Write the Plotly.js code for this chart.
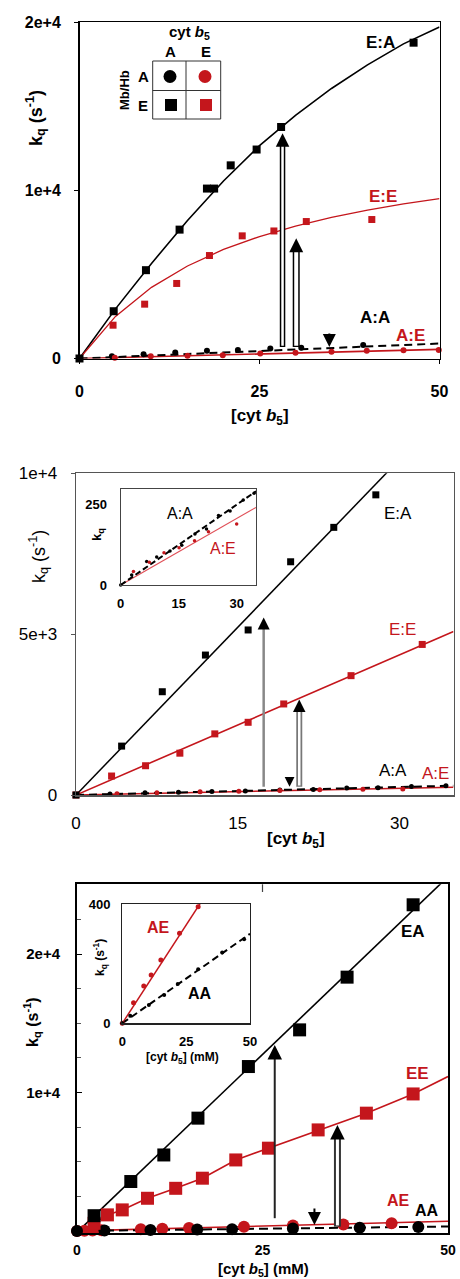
<!DOCTYPE html>
<html><head><meta charset="utf-8">
<script src="https://cdn.plot.ly/plotly-3.0.1.min.js"></script>
<style>html,body{margin:0;padding:0;background:#fff;}#chart{width:460px;height:1279px;}</style>
</head><body><div id="chart"></div>
<script>
// ---------- DATA ----------
// Panel 1
const p1_xTickVals = [0, 25, 50];
const p1_xTickText = ['0', '25', '50'];
const p1_yTickVals = [0, 10000, 20000];
const p1_yTickText = ['0', '1e+4', '2e+4'];
const p1_EA_x = [0, 4.75, 9.23, 13.9, 17.7, 18.7, 21.0, 24.6, 28.0, 46.4];
const p1_EA_y = [0, 2810, 5250, 7660, 10100, 10100, 11480, 12420, 13760, 18770];
const p1_EAfit_x = [0, 5, 10, 15, 20, 25, 30, 35, 40, 45, 50];
const p1_EAfit_y = [0, 2950, 5650, 8200, 10550, 12650, 14450, 16050, 17450, 18700, 19700];
const p1_EE_x = [4.66, 9.05, 13.5, 18.05, 22.6, 27.0, 31.5, 40.6];
const p1_EE_y = [1980, 3230, 4460, 6120, 7290, 7580, 8140, 8260];
const p1_EEfit_x = [0, 5, 10, 15, 20, 25, 30, 35, 40, 45, 50];
const p1_EEfit_y = [0, 2500, 4230, 5500, 6480, 7250, 7870, 8390, 8820, 9190, 9500];
const p1_AA_x = [0, 4.5, 8.9, 13.3, 17.7, 22.0, 26.5, 30.8, 39.4];
const p1_AA_y = [0, 140, 260, 360, 455, 500, 595, 635, 795];
const p1_AAfit_x = [0, 50];
const p1_AAfit_y = [0, 890];
const p1_AE_x = [4.9, 9.9, 15.0, 19.9, 25.1, 30.0, 35.0, 39.9, 45.0, 49.9];
const p1_AE_y = [40, 140, 160, 200, 300, 335, 395, 455, 495, 500];
const p1_AEfit_x = [0, 50];
const p1_AEfit_y = [0, 540];
const p1_upArrows = [[28.2, 690, 13390], [30.1, 690, 7140]];   // x, base, tip
const p1_downArrows = [[34.7, 1600, 690]];                   // x, top, tip

// Panel 2
const p2_xTickVals = [0, 15, 30];
const p2_xTickText = ['0', '15', '30'];
const p2_yTickVals = [0, 5000, 10000];
const p2_yTickText = ['0', '5e+3', '1e+4'];
const p2_EA_x = [0, 4.23, 8.0, 12.0, 15.96, 19.9, 23.9, 27.8];
const p2_EA_y = [0, 1520, 3210, 4350, 5130, 7250, 8320, 9330];
const p2_EAfit_x = [0, 35];
const p2_EAfit_y = [0, 12170];
const p2_EE_x = [0, 3.3, 6.45, 9.63, 12.87, 15.96, 19.26, 25.5, 32.1];
const p2_EE_y = [0, 590, 910, 1300, 1900, 2260, 2830, 3710, 4680];
const p2_EEfit_x = [0, 35];
const p2_EEfit_y = [0, 5080];
const p2_AA_x = [0, 3.15, 6.4, 9.5, 12.6, 15.7, 18.9, 22.0, 25.1, 28.0, 31.1, 34.3];
const p2_AA_y = [0, 31, 73, 87, 105, 123, 158, 173, 215, 229, 263, 284];
const p2_AAfit_x = [0, 35];
const p2_AAfit_y = [0, 290];
const p2_AE_x = [0, 3.8, 7.5, 11.5, 15.1, 18.9, 22.6, 26.6, 30.3];
const p2_AE_y = [0, 42, 70, 100, 115, 137, 165, 180, 189];
const p2_AEfit_x = [0, 35];
const p2_AEfit_y = [0, 240];
const p2_upArrows = [[17.4, 260, 5520], [20.7, 260, 2970]];
const p2_downArrows = [[19.8, 560, 260]];

// Panel 2 inset
const i2_xTickVals = [0, 15, 30];
const i2_xTickText = ['0', '15', '30'];
const i2_yTickVals = [0, 250];
const i2_yTickText = ['0', '250'];
const i2_AA_x = [0, 2.84, 6.72, 9.31, 12.76, 15.8, 19.2, 22.2, 25.3, 28.3, 31.7, 34.5];
const i2_AA_y = [0, 31, 73, 87, 105, 123, 158, 173, 215, 229, 263, 284];
const i2_AAfit_x = [0, 35];
const i2_AAfit_y = [0, 290];
const i2_AE_x = [3.3, 7.4, 11.2, 15.1, 19.1, 22.7, 30.0];
const i2_AE_y = [42, 70, 100, 115, 137, 165, 189];
const i2_AEfit_x = [0, 35];
const i2_AEfit_y = [0, 240];

// Panel 3
const p3_xTickVals = [0, 25, 50];
const p3_xTickText = ['0', '25', '50'];
const p3_yTickVals = [10000, 20000];
const p3_yTickText = ['1e+4', '2e+4'];
const p3_yMinorVals = [2500, 5000, 7500, 12500, 15000, 17500, 22500];
const p3_EA_x = [2.3, 7.25, 11.7, 16.3, 23.1, 30.0, 36.4, 45.3];
const p3_EA_y = [1100, 3570, 5490, 8150, 11880, 14530, 18340, 23570];
const p3_EAfit_x = [0.2, 50];
const p3_EAfit_y = [0, 25600];
const p3_EE_x = [2.3, 4.1, 6.1, 9.5, 13.3, 16.9, 21.4, 25.8, 32.5, 39.0, 45.3];
const p3_EE_y = [550, 1160, 1520, 2360, 3080, 3810, 5130, 5980, 7300, 8510, 9900];
const p3_EEfit_x = [2.3, 4.1, 6.1, 9.5, 13.3, 16.9, 21.4, 25.8, 32.5, 39.0, 45.3, 50];
const p3_EEfit_y = [550, 1160, 1520, 2360, 3080, 3810, 5130, 5980, 7300, 8510, 9900, 11160];
const p3_AA_x = [0, 3.7, 9.9, 16.2, 20.9, 29.1, 38.1, 46.0];
const p3_AA_y = [0, 25, 60, 100, 130, 180, 235, 285];
const p3_AAfit_x = [0, 50];
const p3_AAfit_y = [0, 320];
const p3_AE_x = [0, 1.0, 2.1, 3.3, 8.6, 11.5, 15.1, 22.5, 29.1, 35.9, 42.4];
const p3_AE_y = [0, 15, 30, 45, 115, 155, 205, 300, 390, 470, 560];
const p3_AEfit_x = [0, 50];
const p3_AEfit_y = [0, 700];
const p3_upArrows = [[26.65, 920, 13440], [35.1, 310, 7660]];
const p3_downArrows = [[32.0, 1760, 430]];

// Panel 3 inset
const i3_xTickVals = [0, 25, 50];
const i3_xTickText = ['0', '25', '50'];
const i3_yTickVals = [0, 400];
const i3_yTickText = ['0', '400'];
const i3_AE_x = [0, 4.4, 8.4, 11.3, 15.1, 22.4, 29.7];
const i3_AE_y = [0, 69, 125, 162, 212, 302, 391];
const i3_AEfit_x = [0, 30.5];
const i3_AEfit_y = [0, 402];
const i3_AA_x = [0, 3.1, 10.4, 16.4, 21.7, 29.7, 39.1, 47.7];
const i3_AA_y = [0, 25, 61, 95, 132, 181, 237, 282];
const i3_AAfit_x = [0, 50];
const i3_AAfit_y = [0, 300];

// ---------- DRAWING ----------
const W = 460, H = 1279;
const RED = '#c4161c';
const F = 'Liberation Sans, Arial, Helvetica, sans-serif';
const dx = p => p / W;
const dy = p => 1 - p / H;

const traces = [];
function mk(x, y, n, sym, size, color) {
  traces.push({x, y, xaxis: 'x' + n, yaxis: 'y' + n, type: 'scatter', mode: 'markers',
    marker: {symbol: sym, size, color, line: {width: 0}}, cliponaxis: false, showlegend: false, hoverinfo: 'skip'});
}
function ln(x, y, n, color, width, dash) {
  traces.push({x, y, xaxis: 'x' + n, yaxis: 'y' + n, type: 'scatter', mode: 'lines',
    line: {color, width, dash: dash || 'solid'}, showlegend: false, hoverinfo: 'skip'});
}

// Panel 1 (axis n = '')
ln(p1_EAfit_x, p1_EAfit_y, '', '#000', 1.6);
ln(p1_EEfit_x, p1_EEfit_y, '', RED, 1.3);
ln(p1_AEfit_x, p1_AEfit_y, '', RED, 1.6);
ln(p1_AAfit_x, p1_AAfit_y, '', '#000', 2, '8px,5px');
mk(p1_AA_x, p1_AA_y, '', 'circle', 6, '#000');
mk(p1_AE_x, p1_AE_y, '', 'circle', 6, RED);
mk(p1_EE_x, p1_EE_y, '', 'square', 7, RED);
mk(p1_EA_x, p1_EA_y, '', 'square', 8, '#000');

// Panel 2
ln(p2_EAfit_x, p2_EAfit_y, '2', '#000', 1.5);
ln(p2_EEfit_x, p2_EEfit_y, '2', RED, 1.6);
ln(p2_AEfit_x, p2_AEfit_y, '2', RED, 1.5);
ln(p2_AAfit_x, p2_AAfit_y, '2', '#000', 2, '8px,5px');
mk(p2_AA_x, p2_AA_y, '2', 'circle', 5, '#000');
mk(p2_AE_x, p2_AE_y, '2', 'circle', 5, RED);
mk(p2_EE_x, p2_EE_y, '2', 'square', 7, RED);
mk(p2_EA_x, p2_EA_y, '2', 'square', 7, '#000');

// Panel 3
ln(p3_EAfit_x, p3_EAfit_y, '3', '#000', 1.6);
ln(p3_EEfit_x, p3_EEfit_y, '3', RED, 1.6);
ln(p3_AEfit_x, p3_AEfit_y, '3', RED, 1.6);
ln(p3_AAfit_x, p3_AAfit_y, '3', '#000', 2, '9px,5px');
mk(p3_AE_x, p3_AE_y, '3', 'circle', 12, RED);
mk(p3_AA_x, p3_AA_y, '3', 'circle', 12, '#000');
mk(p3_EE_x, p3_EE_y, '3', 'square', 13, RED);
mk(p3_EA_x, p3_EA_y, '3', 'square', 13, '#000');

// Inset 2 (axis 4)
ln(i2_AEfit_x, i2_AEfit_y, '4', '#e05058', 1.2);
ln(i2_AAfit_x, i2_AAfit_y, '4', '#000', 2, '6px,3px');
mk(i2_AA_x, i2_AA_y, '4', 'circle', 3.5, '#000');
mk(i2_AE_x, i2_AE_y, '4', 'circle', 3.5, RED);

// Inset 3 (axis 5)
ln(i3_AEfit_x, i3_AEfit_y, '5', RED, 1.5);
ln(i3_AAfit_x, i3_AAfit_y, '5', '#000', 2, '7px,4px');
mk(i3_AE_x, i3_AE_y, '5', 'circle', 5, RED);
mk(i3_AA_x, i3_AA_y, '5', 'circle', 4, '#000');

// ---------- AXES ----------
function xax(l, r, range, vals, text, o) {
  return Object.assign({domain: [dx(l), dx(r)], range, tickmode: 'array', tickvals: vals, ticktext: text,
    showgrid: false, zeroline: false, showline: true, linecolor: '#000', linewidth: 1.5, mirror: true,
    ticks: 'outside', ticklen: 4, tickcolor: '#000', fixedrange: true}, o);
}
const sub = {
  '':  {t: 22, b: 358.5, r: [0, 20000]},
  '2': {t: 473.3, b: 795, r: [0, 10000]},
  '3': {t: 884.3, b: 1233, r: [-150, 25050]},
  '4': {t: 489, b: 585, r: [0, 297]},
  '5': {t: 904, b: 1023.3, r: [0, 400]}
};
function yax(n, vals, text, o) {
  const s = sub[n];
  return Object.assign({domain: [dy(s.b), dy(s.t)], range: s.r, tickmode: 'array', tickvals: vals, ticktext: text,
    showgrid: false, zeroline: false, showline: true, linecolor: '#000', linewidth: 1.5, mirror: true,
    ticks: 'outside', ticklen: 4, tickcolor: '#000', fixedrange: true}, o);
}
const tf = (size, weight) => ({family: F, size, color: '#000', weight});

const layout = {
  width: W, height: H, margin: {l: 0, r: 0, t: 0, b: 0},
  paper_bgcolor: '#fff', plot_bgcolor: 'rgba(0,0,0,0)', showlegend: false,
  xaxis: xax(79.5, 439.5, [0, 50], p1_xTickVals, p1_xTickText, {anchor: 'y', tickfont: tf(16, 'bold'), ticklabelstandoff: 14}),
  yaxis: yax('', p1_yTickVals, p1_yTickText, {anchor: 'x', tickfont: tf(16, 'bold'), ticklabelstandoff: 10}),
  xaxis2: xax(76, 453.5, [0, 35], p2_xTickVals, p2_xTickText, {anchor: 'y2', tickfont: tf(17, 'normal'), linecolor: '#555', ticklabelstandoff: 12, ticks: ''}),
  yaxis2: yax('2', p2_yTickVals, p2_yTickText, {anchor: 'x2', tickfont: tf(17, 'normal'), linecolor: '#555', tickcolor: '#555', ticklabelstandoff: 10}),
  xaxis3: xax(77, 448, [0, 50], p3_xTickVals, p3_xTickText, {anchor: 'y3', tickfont: tf(14, 'bold'), linewidth: 2, ticks: '', ticklabelstandoff: 3}),
  yaxis3: yax('3', p3_yTickVals, p3_yTickText, {anchor: 'x3', tickfont: tf(15, 'bold'), linewidth: 2, ticks: 'inside', ticklen: 5, ticklabelstandoff: 12,
    minor: {tickmode: 'array', tickvals: p3_yMinorVals, ticks: 'inside', ticklen: 4, tickcolor: '#555'}}),
  xaxis4: xax(120.7, 256, [0, 35], i2_xTickVals, i2_xTickText, {anchor: 'y4', tickfont: tf(13, 'bold'), linecolor: '#444', linewidth: 1.2, ticks: '', ticklabelstandoff: 6}),
  yaxis4: yax('4', i2_yTickVals, i2_yTickText, {anchor: 'x4', tickfont: tf(13, 'bold'), linecolor: '#444', linewidth: 1.2, ticks: '', ticklabelstandoff: 10}),
  xaxis5: xax(122.3, 250, [0, 50], i3_xTickVals, i3_xTickText, {anchor: 'y5', tickfont: tf(13, 'bold'), linecolor: '#222', linewidth: 1.2, ticks: '', ticklabelstandoff: 6}),
  yaxis5: yax('5', i3_yTickVals, i3_yTickText, {anchor: 'x5', tickfont: tf(13, 'bold'), linecolor: '#222', linewidth: 1.2, ticks: '', ticklabelstandoff: 8}),
  shapes: [], annotations: []
};
// small inward tick at the top of panel 3 (x = 25)
layout.shapes.push({type: 'line', xref: 'x3', yref: 'paper', x0: 25, x1: 25, y0: dy(884.3), y1: dy(892), line: {color: '#444', width: 1.2}});

// ---------- ARROWS ----------
function pxPerY(n) { const s = sub[n]; return (s.b - s.t) / (s.r[1] - s.r[0]); }
function upArrow(n, a, st) {
  const [x, y0, y1] = a;
  const xr = 'x' + n, yr = 'y' + n, k = pxPerY(n);
  const headLen = 5 * st.aw * st.as;
  layout.shapes.push({type: 'line', xref: xr, yref: yr, x0: x, x1: x, y0: y0, y1: y1 - headLen * 0.7 / k,
    line: {color: st.color, width: st.outer}, layer: 'above'});
  if (st.inner) {
    layout.shapes.push({type: 'line', xref: xr, yref: yr, x0: x, x1: x, y0: y0 + 1.2 / k, y1: y1 - headLen * 0.9 / k,
      line: {color: '#fff', width: st.inner}, layer: 'above'});
  }
  layout.annotations.push({xref: xr, yref: yr, x, y: y1, ax: 0, ay: headLen + 1, text: ' ', showarrow: true,
    arrowhead: 2, arrowwidth: st.aw, arrowsize: st.as, arrowcolor: '#000', font: {size: 1}});
}
function downArrow(n, a, st) {
  const [x, yTop, yTip] = a;
  const k = pxPerY(n);
  layout.annotations.push({xref: 'x' + n, yref: 'y' + n, x, y: yTip, ax: 0, ay: -Math.max((yTop - yTip) * k, 8), text: ' ', showarrow: true,
    arrowhead: 2, arrowwidth: st.aw, arrowsize: st.as, arrowcolor: '#000', font: {size: 1}});
}
upArrow('', p1_upArrows[0], {color: '#000', outer: 5.5, inner: 2.5, aw: 2, as: 1.35});
upArrow('', p1_upArrows[1], {color: '#000', outer: 7, inner: 4, aw: 2, as: 1.4});
downArrow('', p1_downArrows[0], {aw: 2, as: 1.3});
upArrow('2', p2_upArrows[0], {color: '#888', outer: 2.5, inner: 0, aw: 2, as: 1.2});
upArrow('2', p2_upArrows[1], {color: '#777', outer: 6, inner: 2.5, aw: 2, as: 1.25});
downArrow('2', p2_downArrows[0], {aw: 1.5, as: 1.3});
upArrow('3', p3_upArrows[0], {color: '#222', outer: 2, inner: 0, aw: 2, as: 1.45});
upArrow('3', p3_upArrows[1], {color: '#333', outer: 7, inner: 3, aw: 2, as: 1.45});
downArrow('3', p3_downArrows[0], {aw: 2, as: 1.3});

// ---------- TEXT ----------
function txt(text, x, y, size, color, weight, angle, xanchor) {
  layout.annotations.push({xref: 'paper', yref: 'paper', x: dx(x), y: dy(y), text, showarrow: false,
    xanchor: xanchor || 'center', yanchor: 'middle', textangle: angle || 0,
    font: {family: F, size, color, weight: weight || 'normal'}});
}
const KQ = 'k<sub>q</sub> (s<sup>-1</sup>)';
const CYT = '[cyt <i>b</i><sub>5</sub>]';
// panel 1
txt(KQ, 35, 118, 18, '#000', 'bold', -90);
txt(CYT, 260, 417, 17, '#000', 'bold');
txt('E:A', 380, 42, 17, '#000', 'bold');
txt('E:E', 383, 197, 17, RED, 'bold');
txt('A:A', 375, 317, 17, '#000', 'bold');
txt('A:E', 410, 335, 17, RED, 'bold');
// legend grid
txt('cyt <i>b</i><sub>5</sub>', 189, 33, 15, '#000', 'bold');
txt('A', 170, 52, 15, '#000', 'bold');
txt('E', 206, 52, 15, '#000', 'bold');
txt('A', 143, 76, 15, '#000', 'bold');
txt('E', 143, 105, 15, '#000', 'bold');
txt('Mb/Hb', 124, 90, 13, '#000', 'bold', -90);
const P = (x0, y0, x1, y1) => ({x0: dx(x0), x1: dx(x1), y0: dy(y1), y1: dy(y0)});
layout.shapes.push(Object.assign({type: 'rect', xref: 'paper', yref: 'paper', line: {color: '#333', width: 1}, fillcolor: 'rgba(0,0,0,0)'}, P(152.7, 61, 220.7, 119)));
layout.shapes.push(Object.assign({type: 'line', xref: 'paper', yref: 'paper', line: {color: '#333', width: 1}}, P(186, 61, 186, 119)));
layout.shapes.push(Object.assign({type: 'line', xref: 'paper', yref: 'paper', line: {color: '#333', width: 1}}, P(152.7, 90.5, 220.7, 90.5)));
layout.shapes.push(Object.assign({type: 'circle', xref: 'paper', yref: 'paper', line: {width: 0}, fillcolor: '#000'}, P(163.5, 70, 176.5, 83)));
layout.shapes.push(Object.assign({type: 'circle', xref: 'paper', yref: 'paper', line: {width: 0}, fillcolor: RED}, P(198.5, 70, 211.5, 83)));
layout.shapes.push(Object.assign({type: 'rect', xref: 'paper', yref: 'paper', line: {width: 0}, fillcolor: '#000'}, P(165, 99, 177, 111)));
layout.shapes.push(Object.assign({type: 'rect', xref: 'paper', yref: 'paper', line: {width: 0}, fillcolor: RED}, P(200, 99, 212, 111)));
// panel 2
txt(KQ, 38, 557, 18, '#000', 'normal', -90);
txt(CYT, 296, 840, 17, '#000', 'bold');
txt('E:A', 398, 513, 17, '#000');
txt('E:E', 402, 629, 17, RED);
txt('A:A', 393, 770, 17, '#000');
txt('A:E', 435, 773, 17, RED);
txt('A:A', 180, 513, 16, '#000');
txt('A:E', 223, 548, 16, RED);
txt('k<sub>q</sub>', 97, 535, 13, '#000', 'bold', -90);
// panel 3
txt(KQ, 32, 1022, 16, '#000', 'bold', -90);
txt(CYT + ' (mM)', 263, 1269, 15, '#000', 'bold');
txt('EA', 413, 931, 17, '#000', 'bold');
txt('EE', 417, 1073, 17, RED, 'bold');
txt('AE', 398, 1200, 16, RED, 'bold');
txt('AA', 427, 1210, 16, '#000', 'bold');
txt('AE', 158, 928, 16, RED, 'bold');
txt('AA', 200, 993, 16, '#000', 'bold');
txt(KQ, 100, 958, 12, '#000', 'bold', -90);
txt(CYT + ' (mM)', 182, 1058, 12, '#000', 'bold');

Plotly.newPlot('chart', traces, layout, {staticPlot: true, displayModeBar: false});
</script>
</body></html>
